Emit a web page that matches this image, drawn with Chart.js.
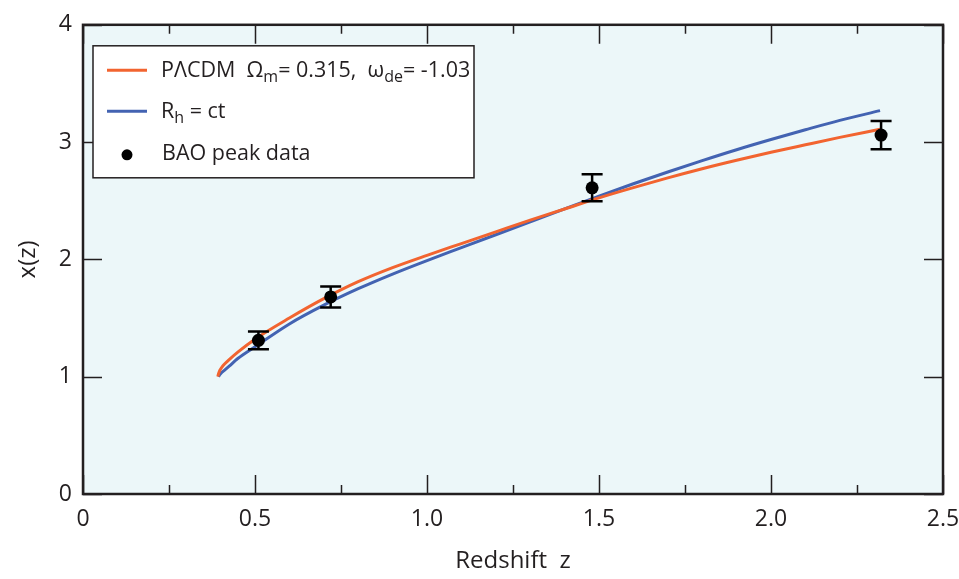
<!DOCTYPE html>
<html>
<head>
<meta charset="utf-8">
<script src="https://cdn.jsdelivr.net/npm/chart.js@4/dist/chart.umd.min.js"></script>
<style>
html,body{margin:0;padding:0;background:#fff;}
#wrap{width:959px;height:579px;position:relative;}
</style>
</head>
<body>
<div id="wrap"><canvas id="c" width="959" height="579"></canvas></div>
<script>
// ---- data ----
const lcdmZ = [0.392, 0.394, 0.398, 0.404, 0.413, 0.425, 0.45, 0.50, 0.60, 0.70, 0.80, 0.90, 1.00, 1.10, 1.20, 1.30, 1.40, 1.50, 1.60, 1.70, 1.80, 1.90, 2.00, 2.10, 2.20, 2.317];
const lcdmX = [1.000, 1.025, 1.055, 1.082, 1.112, 1.146, 1.210, 1.320, 1.500, 1.665, 1.810, 1.930, 2.035, 2.135, 2.235, 2.335, 2.430, 2.525, 2.612, 2.695, 2.773, 2.845, 2.913, 2.977, 3.040, 3.110];
const rhZ   = [0.394, 0.397, 0.402, 0.41, 0.425, 0.45, 0.50, 0.60, 0.70, 0.80, 0.90, 1.00, 1.10, 1.20, 1.30, 1.40, 1.50, 1.60, 1.70, 1.80, 1.90, 2.00, 2.10, 2.20, 2.317];
const rhX   = [1.000, 1.015, 1.032, 1.052, 1.090, 1.155, 1.255, 1.450, 1.610, 1.750, 1.875, 1.990, 2.100, 2.210, 2.320, 2.430, 2.540, 2.645, 2.745, 2.842, 2.935, 3.022, 3.105, 3.185, 3.268];
const baoZ   = [0.51, 0.72, 1.48, 2.32];
const baoX   = [1.31, 1.68, 2.61, 3.06];
const baoErr = [0.075, 0.09, 0.115, 0.12];
const xTickLabels = ['0', '0.5', '1.0', '1.5', '2.0', '2.5'];
const yTickLabels = ['0', '1', '2', '3', '4'];

const ORANGE = '#f26430';
const BLUE = '#4363b2';
const INK = '#231f20';
const BG = '#ecf7f9';
const FONT = "'Open Sans', sans-serif";

const toPts = (xs, ys) => xs.map((v, i) => ({x: v, y: ys[i]}));

const bgPlugin = {
  id: 'bg',
  beforeDraw(chart) {
    const {ctx, chartArea: a} = chart;
    ctx.save();
    ctx.fillStyle = BG;
    ctx.fillRect(a.left, a.top, a.right - a.left, a.bottom - a.top);
    ctx.restore();
  }
};

const errPlugin = {
  id: 'errbars',
  afterDatasetsDraw(chart) {
    const {ctx, scales: {x, y}} = chart;
    ctx.save();
    ctx.strokeStyle = '#000';
    ctx.lineWidth = 2.5;
    baoZ.forEach((z, i) => {
      const px = x.getPixelForValue(z);
      const top = y.getPixelForValue(baoX[i] + baoErr[i]);
      const bot = y.getPixelForValue(baoX[i] - baoErr[i]);
      ctx.beginPath();
      ctx.moveTo(px, top); ctx.lineTo(px, bot);
      ctx.moveTo(px - 10.5, top); ctx.lineTo(px + 10.5, top);
      ctx.moveTo(px - 10.5, bot); ctx.lineTo(px + 10.5, bot);
      ctx.stroke();
    });
    ctx.restore();
  }
};

const framePlugin = {
  id: 'frame',
  afterDraw(chart) {
    const {ctx, chartArea: a, scales: {x, y}} = chart;
    ctx.save();
    ctx.strokeStyle = INK;
    ctx.lineCap = 'butt';
    // ticks
    ctx.lineWidth = 1.5;
    for (let v = 0; v <= 2.5001; v += 0.25) {
      const px = Math.round(x.getPixelForValue(v)) + 0.5;
      const major = Math.abs(v * 2 - Math.round(v * 2)) < 1e-6;
      const len = major ? 19 : 9;
      ctx.beginPath();
      ctx.moveTo(px, a.bottom); ctx.lineTo(px, a.bottom - len);
      ctx.moveTo(px, a.top); ctx.lineTo(px, a.top + len);
      ctx.stroke();
    }
    for (let v = 0; v <= 4; v += 1) {
      const py = Math.round(y.getPixelForValue(v)) + 0.5;
      ctx.beginPath();
      ctx.moveTo(a.left, py); ctx.lineTo(a.left + 19, py);
      ctx.moveTo(a.right, py); ctx.lineTo(a.right - 19, py);
      ctx.stroke();
    }
    // frame
    ctx.lineWidth = 2.5;
    ctx.strokeRect(a.left, a.top, a.right - a.left, a.bottom - a.top);

    // legend
    const L = a.left + 10, T = a.top + 21, W = 381, H = 132;
    ctx.fillStyle = '#fff';
    ctx.fillRect(L, T, W, H);
    ctx.lineWidth = 1.5;
    ctx.strokeStyle = INK;
    ctx.strokeRect(L, T, W, H);

    ctx.lineWidth = 3;
    ctx.strokeStyle = ORANGE;
    ctx.beginPath(); ctx.moveTo(L + 14, T + 24.5); ctx.lineTo(L + 54, T + 24.5); ctx.stroke();
    ctx.strokeStyle = BLUE;
    ctx.beginPath(); ctx.moveTo(L + 14, T + 65.5); ctx.lineTo(L + 54, T + 65.5); ctx.stroke();
    ctx.fillStyle = '#000';
    ctx.beginPath(); ctx.arc(L + 34, T + 109, 5.5, 0, Math.PI * 2); ctx.fill();

    ctx.fillStyle = INK;
    ctx.textBaseline = 'alphabetic';
    ctx.textAlign = 'left';
    const big = "21.5px " + FONT, small = "16px " + FONT;
    const runs = (parts, x0, base) => {
      let cx = x0;
      parts.forEach(([t, sub]) => {
        ctx.font = sub ? small : big;
        ctx.fillText(t, cx, base + (sub ? 5 : 0));
        cx += ctx.measureText(t).width;
      });
    };
    runs([['P\u039BCDM  \u03A9', false], ['m', true], ['= 0.315,  \u03C9', false], ['de', true], ['= -1.03', false]], L + 68, T + 31.5);
    runs([['R', false], ['h', true], [' = ct', false]], L + 68, T + 72);
    runs([['BAO peak data', false]], L + 69, T + 114);
    ctx.restore();
  }
};

new Chart(document.getElementById('c'), {
  type: 'scatter',
  data: {
    datasets: [
      { label: 'P\u039BCDM', data: toPts(lcdmZ, lcdmX), showLine: true, borderColor: ORANGE, borderWidth: 3,
        pointRadius: 0, cubicInterpolationMode: 'monotone', fill: false, order: 2 },
      { label: 'Rh = ct', data: toPts(rhZ, rhX), showLine: true, borderColor: BLUE, borderWidth: 3,
        pointRadius: 0, cubicInterpolationMode: 'monotone', fill: false, order: 3 },
      { label: 'BAO peak data', data: toPts(baoZ, baoX), showLine: false, pointRadius: 6.5,
        pointBackgroundColor: '#000', pointBorderColor: '#000', borderWidth: 0, order: 1 }
    ]
  },
  options: {
    responsive: false,
    animation: false,
    events: [],
    layout: { padding: { top: 14, right: 0, left: 0, bottom: 0 } },
    plugins: { legend: { display: false }, tooltip: { enabled: false } },
    scales: {
      x: {
        type: 'linear', min: 0, max: 2.5,
        afterFit: s => { s.height = 85; s.paddingRight = 16; },
        afterBuildTicks: s => { s.ticks = xTickLabels.map(t => ({ value: parseFloat(t) })); },
        grid: { display: false, drawTicks: false },
        border: { display: false },
        ticks: { color: INK, padding: 12, font: { family: FONT, size: 23 },
                 callback: (v, i) => xTickLabels[i], maxRotation: 0, autoSkip: false },
        title: { display: true, text: 'Redshift  z', color: INK, font: { family: FONT, size: 24 },
                 padding: { top: 0, bottom: 3 } }
      },
      y: {
        type: 'linear', min: 0, max: 4,
        afterFit: s => { s.width = 83; },
        afterBuildTicks: s => { s.ticks = yTickLabels.map(t => ({ value: parseFloat(t) })); },
        grid: { display: false, drawTicks: false },
        border: { display: false },
        ticks: { color: INK, padding: 11, font: { family: FONT, size: 23 },
                 callback: (v, i) => yTickLabels[i], autoSkip: false },
        title: { display: true, text: 'x(z)', color: INK, font: { family: FONT, size: 24 },
                 padding: { top: 14, bottom: 0 } }
      }
    }
  },
  plugins: [bgPlugin, errPlugin, framePlugin]
});
</script>
</body>
</html>
